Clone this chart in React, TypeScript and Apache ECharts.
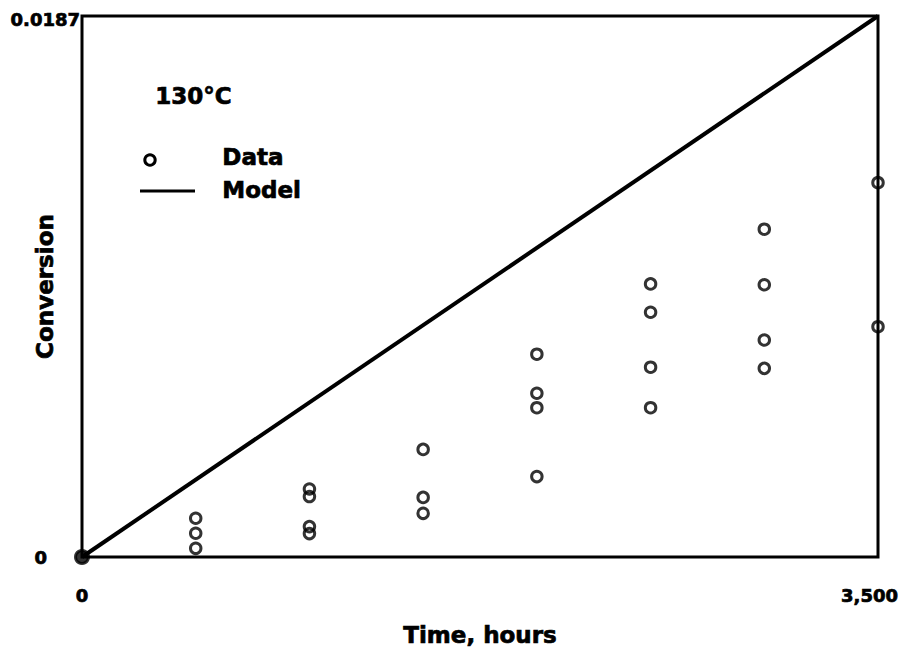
import React, { useEffect, useRef } from "react";
import * as echarts from "echarts";

// Measured conversion at each sampling time (hours); several specimens per time.
const sampleHours = [0, 500, 1000, 1500, 2000, 2500, 3000, 3500];
const sampleConversion = [
  [0],
  [0.00134, 0.00082, 0.0003],
  [0.00235, 0.00209, 0.00105, 0.00081],
  [0.00372, 0.00206, 0.00151],
  [0.00701, 0.00566, 0.00516, 0.00278],
  [0.00944, 0.00846, 0.00656, 0.00516],
  [0.01133, 0.00941, 0.0075, 0.00652],
  [0.01294, 0.00796],
];

// Model prediction (linear in time).
const modelHours = [0, 3500];
const modelConversion = [0, 0.0187];

const xTicks = [0, 3500];
const yTicks = [0, 0.0187];
const temperatureLabel = "130°C";

const FONT = "DejaVu Sans";
// Slight outline to give the bold lettering extra weight.
const heavy = { textBorderColor: "#000", textBorderWidth: 0.7 };
const heavyFill = { stroke: "#000", lineWidth: 0.7 };

export default function App() {
  const ref = useRef<HTMLDivElement>(null);

  useEffect(() => {
    if (!ref.current) return;
    const chart = echarts.init(ref.current, null, { renderer: "svg" });

    const dataPoints: any[] = [];
    sampleHours.forEach((h, i) => {
      sampleConversion[i].forEach((c) => {
        if (h === 0) {
          dataPoints.push({ value: [h, c], symbolSize: 13, itemStyle: { color: "#000" } });
        } else {
          dataPoints.push([h, c]);
        }
      });
    });

    const modelPoints = modelHours.map((h, i) => [h, modelConversion[i]]);

    const labelFont = { fontFamily: FONT, fontWeight: "bold", fontSize: 18, color: "#000", ...heavy };
    const nameFont = { fontFamily: FONT, fontWeight: "bold", fontSize: 23, color: "#000", ...heavy };

    chart.setOption({
      animation: false,
      backgroundColor: "#fff",
      textStyle: { fontFamily: FONT, fontWeight: "bold", color: "#000" },
      grid: {
        left: 82,
        right: 28,
        top: 16,
        bottom: 103,
        show: true,
        borderColor: "#000",
        borderWidth: 3,
        backgroundColor: "transparent",
        outerBoundsMode: "none",
        containLabel: false,
      },
      xAxis: {
        type: "value",
        min: xTicks[0],
        max: xTicks[1],
        interval: xTicks[1] - xTicks[0],
        name: "Time, hours",
        nameLocation: "middle",
        nameGap: 66,
        nameMoveOverlap: false,
        nameTextStyle: nameFont,
        axisLine: { show: false },
        axisTick: { show: false },
        splitLine: { show: false },
        axisLabel: {
          margin: 29,
          ...labelFont,
          formatter: (v: number) =>
            v === 0 ? "{z|0}" : "{e|" + v.toLocaleString("en-US") + "}",
          rich: {
            z: { ...labelFont },
            e: { ...labelFont, padding: [0, 17, 0, 0] },
          },
        },
      },
      yAxis: {
        type: "value",
        min: yTicks[0],
        max: yTicks[1],
        interval: yTicks[1] - yTicks[0],
        name: "Conversion",
        nameLocation: "middle",
        nameGap: 26,
        nameMoveOverlap: false,
        nameTextStyle: nameFont,
        axisLine: { show: false },
        axisTick: { show: false },
        splitLine: { show: false },
        axisLabel: {
          margin: 2,
          ...labelFont,
          formatter: (v: number) => (v === 0 ? "{z|0}" : "{t|" + v + "}"),
          rich: {
            z: { ...labelFont, padding: [0, 33, 0, 0] },
            t: { ...labelFont, padding: [7, 0, 0, 0] },
          },
        },
      },
      series: [
        {
          name: "Model",
          type: "line",
          data: modelPoints,
          showSymbol: false,
          symbol: "none",
          lineStyle: { color: "#000", width: 4 },
          z: 3,
        },
        {
          name: "Data",
          type: "scatter",
          data: dataPoints,
          symbol: "circle",
          symbolSize: 10.5,
          clip: false,
          itemStyle: { color: "rgba(0,0,0,0)", borderColor: "#000", borderWidth: 3 },
          z: 4,
        },
      ],
      graphic: [
        {
          type: "text",
          left: 155,
          top: 84,
          style: {
            text: temperatureLabel,
            fontFamily: FONT,
            fontWeight: "bold",
            fontSize: 23,
            fill: "#000",
            ...heavyFill,
          },
        },
        {
          type: "circle",
          shape: { cx: 150, cy: 160, r: 5.2 },
          style: { fill: "none", stroke: "#000", lineWidth: 3 },
        },
        {
          type: "text",
          left: 222,
          top: 145,
          style: {
            text: "Data",
            fontFamily: FONT,
            fontWeight: "bold",
            fontSize: 23,
            fill: "#000",
            ...heavyFill,
          },
        },
        {
          type: "line",
          shape: { x1: 140, y1: 191, x2: 195, y2: 191 },
          style: { stroke: "#000", lineWidth: 3 },
        },
        {
          type: "text",
          left: 222,
          top: 178,
          style: {
            text: "Model",
            fontFamily: FONT,
            fontWeight: "bold",
            fontSize: 23,
            fill: "#000",
            ...heavyFill,
          },
        },
      ],
    });

    return () => chart.dispose();
  }, []);

  return (
    <div
      ref={ref}
      style={{ position: "absolute", left: 0, top: 0, width: 906, height: 660 }}
    />
  );
}
